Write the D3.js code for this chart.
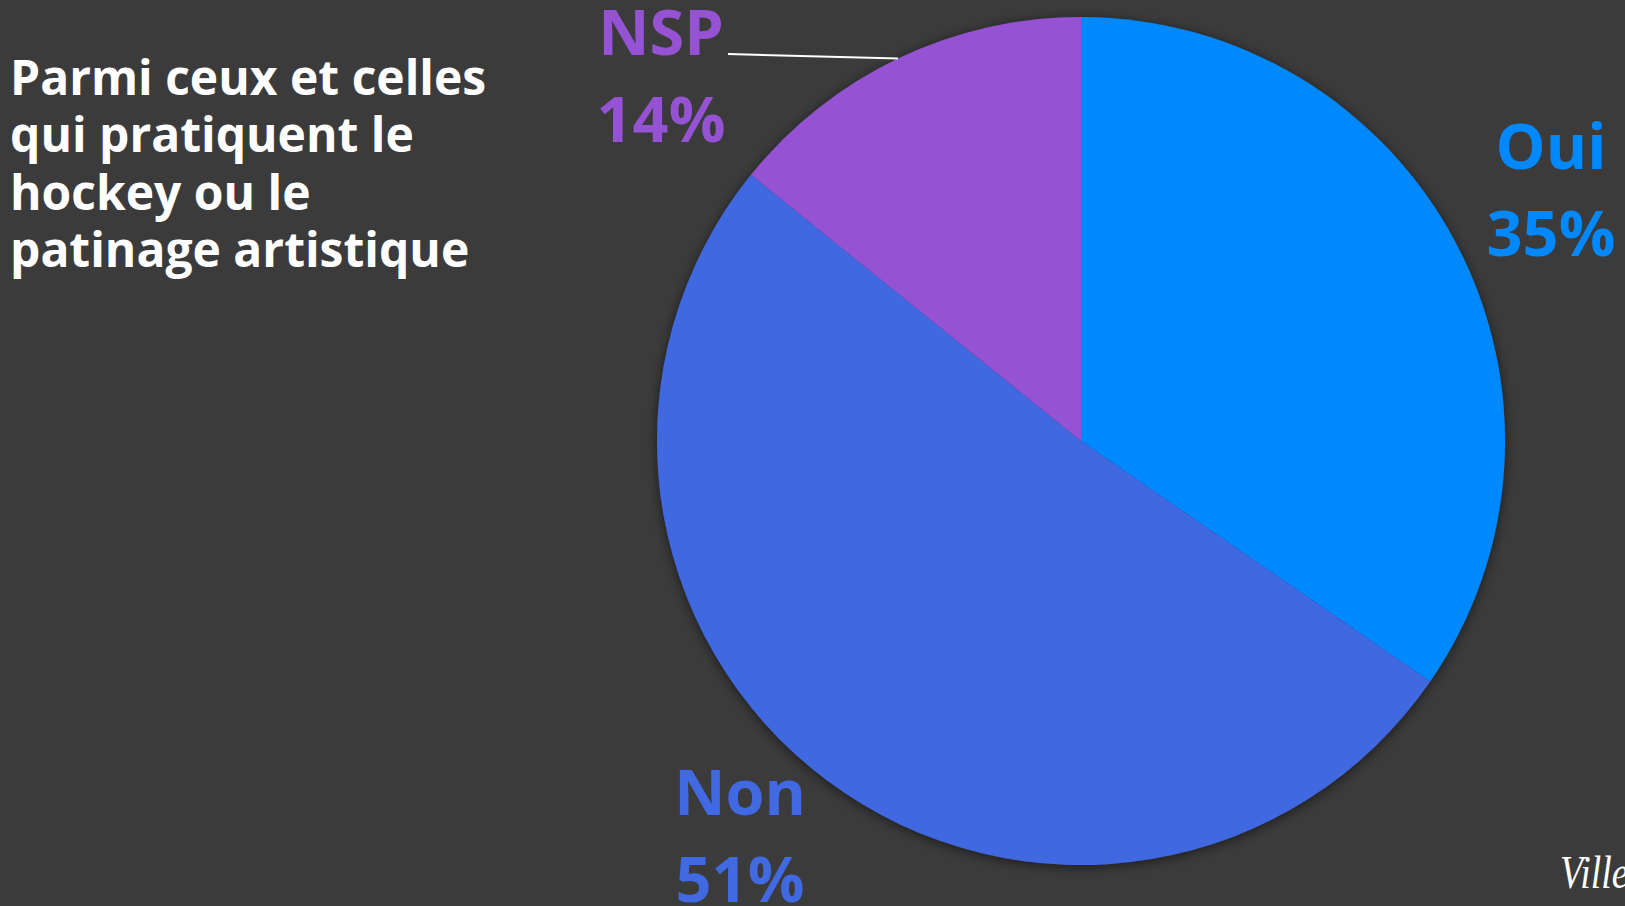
<!DOCTYPE html>
<html>
<head>
<meta charset="utf-8">
<script src="https://cdn.jsdelivr.net/npm/d3@7"></script>
<style>
html,body{margin:0;padding:0;background:#3b3b3b;overflow:hidden;}
svg{display:block;}
</style>
</head>
<body>
<svg id="chart" width="1625" height="906"></svg>
<script>
const categories = ["Oui", "Non", "NSP"];
const values = [34.6, 51.2, 14.2];
const valueLabels = ["35%", "51%", "14%"];
const colors = ["#0088ff", "#4169e1", "#9553d4"];
const titleLines = ["Parmi ceux et celles", "qui pratiquent le", "hockey ou le", "patinage artistique"];
const footer = "Ville";

const W = 1625, H = 906;
const cx = 1081, cy = 441, R = 424;
const svg = d3.select("#chart");

const defs = svg.append("defs");
const f = defs.append("filter").attr("id","sh").attr("x","-10%").attr("y","-10%").attr("width","120%").attr("height","120%");
f.append("feDropShadow").attr("dx",0).attr("dy",2).attr("stdDeviation",6).attr("flood-color","#000").attr("flood-opacity",0.55);

const pie = d3.pie().sort(null).value(d => d)(values);
const arc = d3.arc().innerRadius(0).outerRadius(R);
const color = d3.scaleOrdinal().domain(categories).range(colors);

const g = svg.append("g").attr("transform", `translate(${cx},${cy})`);
g.append("g").attr("filter","url(#sh)")
  .selectAll("path").data(pie).join("path")
  .attr("d", arc)
  .attr("fill", (d,i) => color(categories[i]));

// title
const t = svg.append("text").attr("x", 10).attr("y", 95)
  .attr("font-family", "'Open Sans', sans-serif").attr("font-weight", 700)
  .attr("font-size", 48).attr("fill", "#ffffff");
titleLines.forEach((l,i) => t.append("tspan").attr("x", 10).attr("y", 95 + i*57.3).text(l));

// labels
const labelPos = [
  {x: 1551, y: 169},
  {x: 740, y: 815},
  {x: 661, y: 55}
];
const lfont = "'Open Sans', sans-serif";
categories.forEach((c,i) => {
  const lt = svg.append("text").attr("text-anchor","middle")
    .attr("font-family", lfont).attr("font-weight", 700).attr("font-size", 63)
    .attr("fill", color(c));
  lt.append("tspan").attr("x", labelPos[i].x).attr("y", labelPos[i].y).text(c);
  lt.append("tspan").attr("x", labelPos[i].x).attr("y", labelPos[i].y + 87).text(valueLabels[i]);
});

// leader line for NSP
const nsp = pie[2];
const mid = (nsp.startAngle + nsp.endAngle) / 2;
const ex = cx + R * Math.sin(mid), ey = cy - R * Math.cos(mid);
svg.append("line").attr("x1", 728).attr("y1", 54).attr("x2", ex).attr("y2", ey)
  .attr("stroke", "#ffffff").attr("stroke-width", 2);

// footer
svg.append("text").attr("transform", "translate(1560,888) scale(0.82,1)")
  .attr("font-family", "'Liberation Serif', serif").attr("font-style","italic")
  .attr("font-size", 46).attr("fill", "#ffffff").text(footer);
</script>
</body>
</html>
